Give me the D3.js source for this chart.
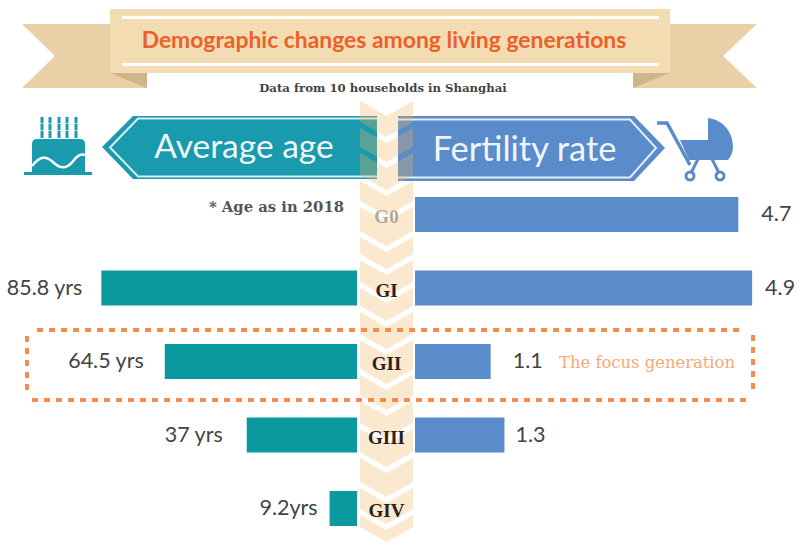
<!DOCTYPE html>
<html>
<head>
<meta charset="utf-8">
<script src="https://cdn.jsdelivr.net/npm/d3@7"></script>
<style>
  html, body { margin: 0; padding: 0; background: #fff; }
  svg { display: block; }
</style>
</head>
<body>
<div id="chart"></div>
<script>
// Chart values
var generations = ['G0', 'GI', 'GII', 'GIII', 'GIV'];
var ageValues = [null, 85.8, 64.5, 37, 9.2];
var ageLabels = ['', '85.8 yrs', '64.5 yrs', '37 yrs', '9.2yrs'];
var fertilityValues = [4.7, 4.9, 1.1, 1.3, null];
var fertilityLabels = ['4.7', '4.9', '1.1', '1.3', ''];

var titleText = 'Demographic changes among living generations';
var subtitleText = 'Data from 10 households in Shanghai';
var noteText = '* Age as in 2018';
var focusText = 'The focus generation';

var width = 798, height = 542;
var teal = '#0b99a0', tealHead = '#1a9aad', blue = '#5a8bca', orange = '#f58b4c';
var sans = 'Lato, sans-serif', slab = '"DejaVu Serif", serif';

var svg = d3.select('#chart').append('svg')
  .attr('width', width)
  .attr('height', height);

var line = d3.line();
function poly(g, pts, fill) {
  return g.append('path').attr('d', line(pts) + 'Z').attr('fill', fill);
}

// Scales
var xAge = d3.scaleLinear().domain([0, 100]).range([357, 59]);
var xFert = d3.scaleLinear().domain([0, 5]).range([415, 759]);
var y = d3.scaleBand().domain(generations).range([197, 526]).paddingInner(0.524);

// Ribbon title
var ribbon = svg.append('g').attr('id', 'ribbon');
poly(ribbon, [[22, 24], [110, 24], [147, 73], [147, 88], [22, 88], [55, 56]], '#e9d0a6');
poly(ribbon, [[110, 73], [147, 73], [147, 88]], '#cfb58b');
poly(ribbon, [[757, 24], [670, 24], [633, 73], [633, 88], [757, 88], [723, 56]], '#e9d0a6');
poly(ribbon, [[670, 73], [633, 73], [633, 88]], '#cfb58b');
ribbon.append('rect').attr('x', 110).attr('y', 9).attr('width', 560).attr('height', 64).attr('fill', '#f4dcb2');
[17.5, 64.5].forEach(function(ly) {
  ribbon.append('line').attr('x1', 122).attr('x2', 659).attr('y1', ly).attr('y2', ly)
    .attr('stroke', '#fff').attr('stroke-width', 3);
});
ribbon.append('text').attr('x', 384).attr('y', 48)
  .attr('text-anchor', 'middle').attr('font-family', sans).attr('font-weight', 700)
  .attr('font-size', 22.9).attr('fill', '#ec6029').text(titleText);
svg.append('text').attr('x', 383).attr('y', 92)
  .attr('text-anchor', 'middle').attr('font-family', slab).attr('font-weight', 700)
  .attr('font-size', 11.7).attr('fill', '#444').text(subtitleText);

// Arrow headers
var head = svg.append('g').attr('id', 'headers');
poly(head, [[133, 116], [377, 116], [377, 179], [133, 179], [102, 147]], tealHead);
head.append('path').attr('d', 'M377,118.5H138L110,147.5L138,176.5H377')
  .attr('fill', 'none').attr('stroke', '#d8eef1').attr('stroke-width', 2);
head.append('text').attr('x', 244).attr('y', 158)
  .attr('text-anchor', 'middle').attr('font-family', sans).attr('font-size', 33.5)
  .attr('fill', '#eef8f9').text('Average age');

poly(head, [[398, 116], [634, 116], [665, 148], [634, 181], [398, 181]], blue);
head.append('path').attr('d', 'M398,119.5H630L656,148L630,177.5H398')
  .attr('fill', 'none').attr('stroke', '#e3ecf7').attr('stroke-width', 2);
head.append('text').attr('x', 524.5).attr('y', 161)
  .attr('text-anchor', 'middle').attr('font-family', sans).attr('font-size', 34.4)
  .attr('fill', '#f0f5fb').text('Fertility rate');

// Cake icon
var cake = svg.append('g').attr('id', 'cake').attr('fill', tealHead);
[42, 50, 59, 67, 76].forEach(function(cx) {
  cake.append('rect').attr('x', cx - 1.5).attr('y', 117).attr('width', 3).attr('height', 21);
});
cake.append('path').attr('d', 'M32,144Q32,139 37,139H80Q85,139 85,144V172H92V175H24V172H32Z');
cake.append('path').attr('d', 'M32,166C40,156 46,155 54,163C62,170 68,168 74,160C78,155 82,154 85,155')
  .attr('fill', 'none').attr('stroke', '#fff').attr('stroke-width', 2.5);
cake.selectAll('rect.gap').data([123, 130]).enter().append('rect')
  .attr('class', 'gap').attr('x', 38).attr('y', function(d) { return d; })
  .attr('width', 42).attr('height', 1).attr('fill', '#fff').attr('opacity', 0.6);

// Pram icon
var pram = svg.append('g').attr('id', 'pram');
pram.append('path').attr('d', 'M657,123H667L690,165').attr('fill', 'none').attr('stroke', blue).attr('stroke-width', 3.5);
pram.append('path').attr('fill', blue)
  .attr('d', 'M680,140H708V118C724,120 733,133 733,147Q733,154 728,160H689Z');
pram.append('path').attr('d', 'M698,159L691,173M712,159L719,173').attr('fill', 'none').attr('stroke', blue).attr('stroke-width', 3);
[690, 720].forEach(function(cx) {
  pram.append('circle').attr('cx', cx).attr('cy', 176).attr('r', 4)
    .attr('fill', '#fff').attr('stroke', blue).attr('stroke-width', 3);
});

// Chevron strip down the middle, see-through over the headers
var stripL = 360, stripR = 413, stripC = 386.5, rise = 15, gap = 3;
var tips = [116, 140, 165, 193, 219, 249, 272, 300, 324, 352, 387, 413, 441, 470, 500, 527];
var strip = svg.append('g').attr('id', 'strip');
d3.pairs(tips.concat([542])).forEach(function(p, i) {
  var top = p[0] + (i === 0 ? 0 : gap), bottom = p[1] - gap;
  if (i === tips.length - 1) bottom = p[1];
  poly(strip, [
    [stripL, top - rise], [stripC, top], [stripR, top - rise],
    [stripR, bottom - rise], [stripC, bottom], [stripL, bottom - rise]
  ], '#f0b761').attr('fill-opacity', 0.3);
});

// Bars
var rows = svg.append('g').attr('id', 'rows').selectAll('g')
  .data(generations).enter().append('g');

rows.filter(function(d, i) { return ageValues[i] !== null; }).append('rect')
  .attr('x', function(d) { return xAge(ageValues[generations.indexOf(d)]); })
  .attr('y', function(d) { return y(d); })
  .attr('width', function(d) { return xAge(0) - xAge(ageValues[generations.indexOf(d)]); })
  .attr('height', y.bandwidth())
  .attr('fill', teal);

rows.filter(function(d, i) { return fertilityValues[i] !== null; }).append('rect')
  .attr('x', xFert(0))
  .attr('y', function(d) { return y(d); })
  .attr('width', function(d) { return xFert(fertilityValues[generations.indexOf(d)]) - xFert(0); })
  .attr('height', y.bandwidth())
  .attr('fill', blue);

// Value labels, the gaps to the bars are uneven in the original
var ageGap = [0, 19, 21, 24, 12];
var fertGap = [23, 13, 22, 11, 0];

rows.append('text')
  .attr('x', function(d, i) { return ageValues[i] === null ? 0 : xAge(ageValues[i]) - ageGap[i]; })
  .attr('y', function(d) { return y(d) + y.bandwidth() / 2 - 1; })
  .attr('dy', '0.35em')
  .attr('text-anchor', 'end')
  .attr('font-family', sans).attr('font-size', 21.5).attr('fill', '#444')
  .text(function(d, i) { return ageLabels[i]; });

rows.append('text')
  .attr('x', function(d, i) { return fertilityValues[i] === null ? 0 : xFert(fertilityValues[i]) + fertGap[i]; })
  .attr('y', function(d) { return y(d) + y.bandwidth() / 2 - 1; })
  .attr('dy', '0.35em')
  .attr('font-family', sans).attr('font-size', 21.5).attr('fill', '#444')
  .text(function(d, i) { return fertilityLabels[i]; });

// The labels run off the right edge of the picture
svg.append('rect').attr('x', 794).attr('y', 0).attr('width', 4).attr('height', height).attr('fill', '#fff');

// Generation names on the strip
rows.append('text')
  .attr('x', stripC)
  .attr('y', function(d) { return y(d) + y.bandwidth() / 2 + 2; })
  .attr('dy', '0.35em')
  .attr('text-anchor', 'middle')
  .attr('font-family', '"Liberation Serif", serif').attr('font-weight', 700)
  .attr('font-size', 19)
  .attr('fill', function(d) { return d === 'G0' ? '#b0a898' : '#2b2117'; })
  .text(function(d) { return d; });

svg.append('text').attr('x', 344).attr('y', 212)
  .attr('text-anchor', 'end').attr('font-family', slab).attr('font-weight', 700)
  .attr('font-size', 14.8).attr('fill', '#555').text(noteText);

// Focus box
var focus = svg.append('g').attr('id', 'focus')
  .attr('stroke', orange).attr('stroke-width', 4).attr('stroke-dasharray', '6,6');
[[37, 330, 742, 330], [32, 400, 748, 400], [27, 336, 27, 390], [753, 335, 753, 390]].forEach(function(s) {
  focus.append('line').attr('x1', s[0]).attr('y1', s[1]).attr('x2', s[2]).attr('y2', s[3]);
});
svg.append('text').attr('x', 559).attr('y', 368)
  .attr('font-family', slab).attr('font-size', 16.4).attr('fill', '#f8a877').text(focusText);
</script>
</body>
</html>
